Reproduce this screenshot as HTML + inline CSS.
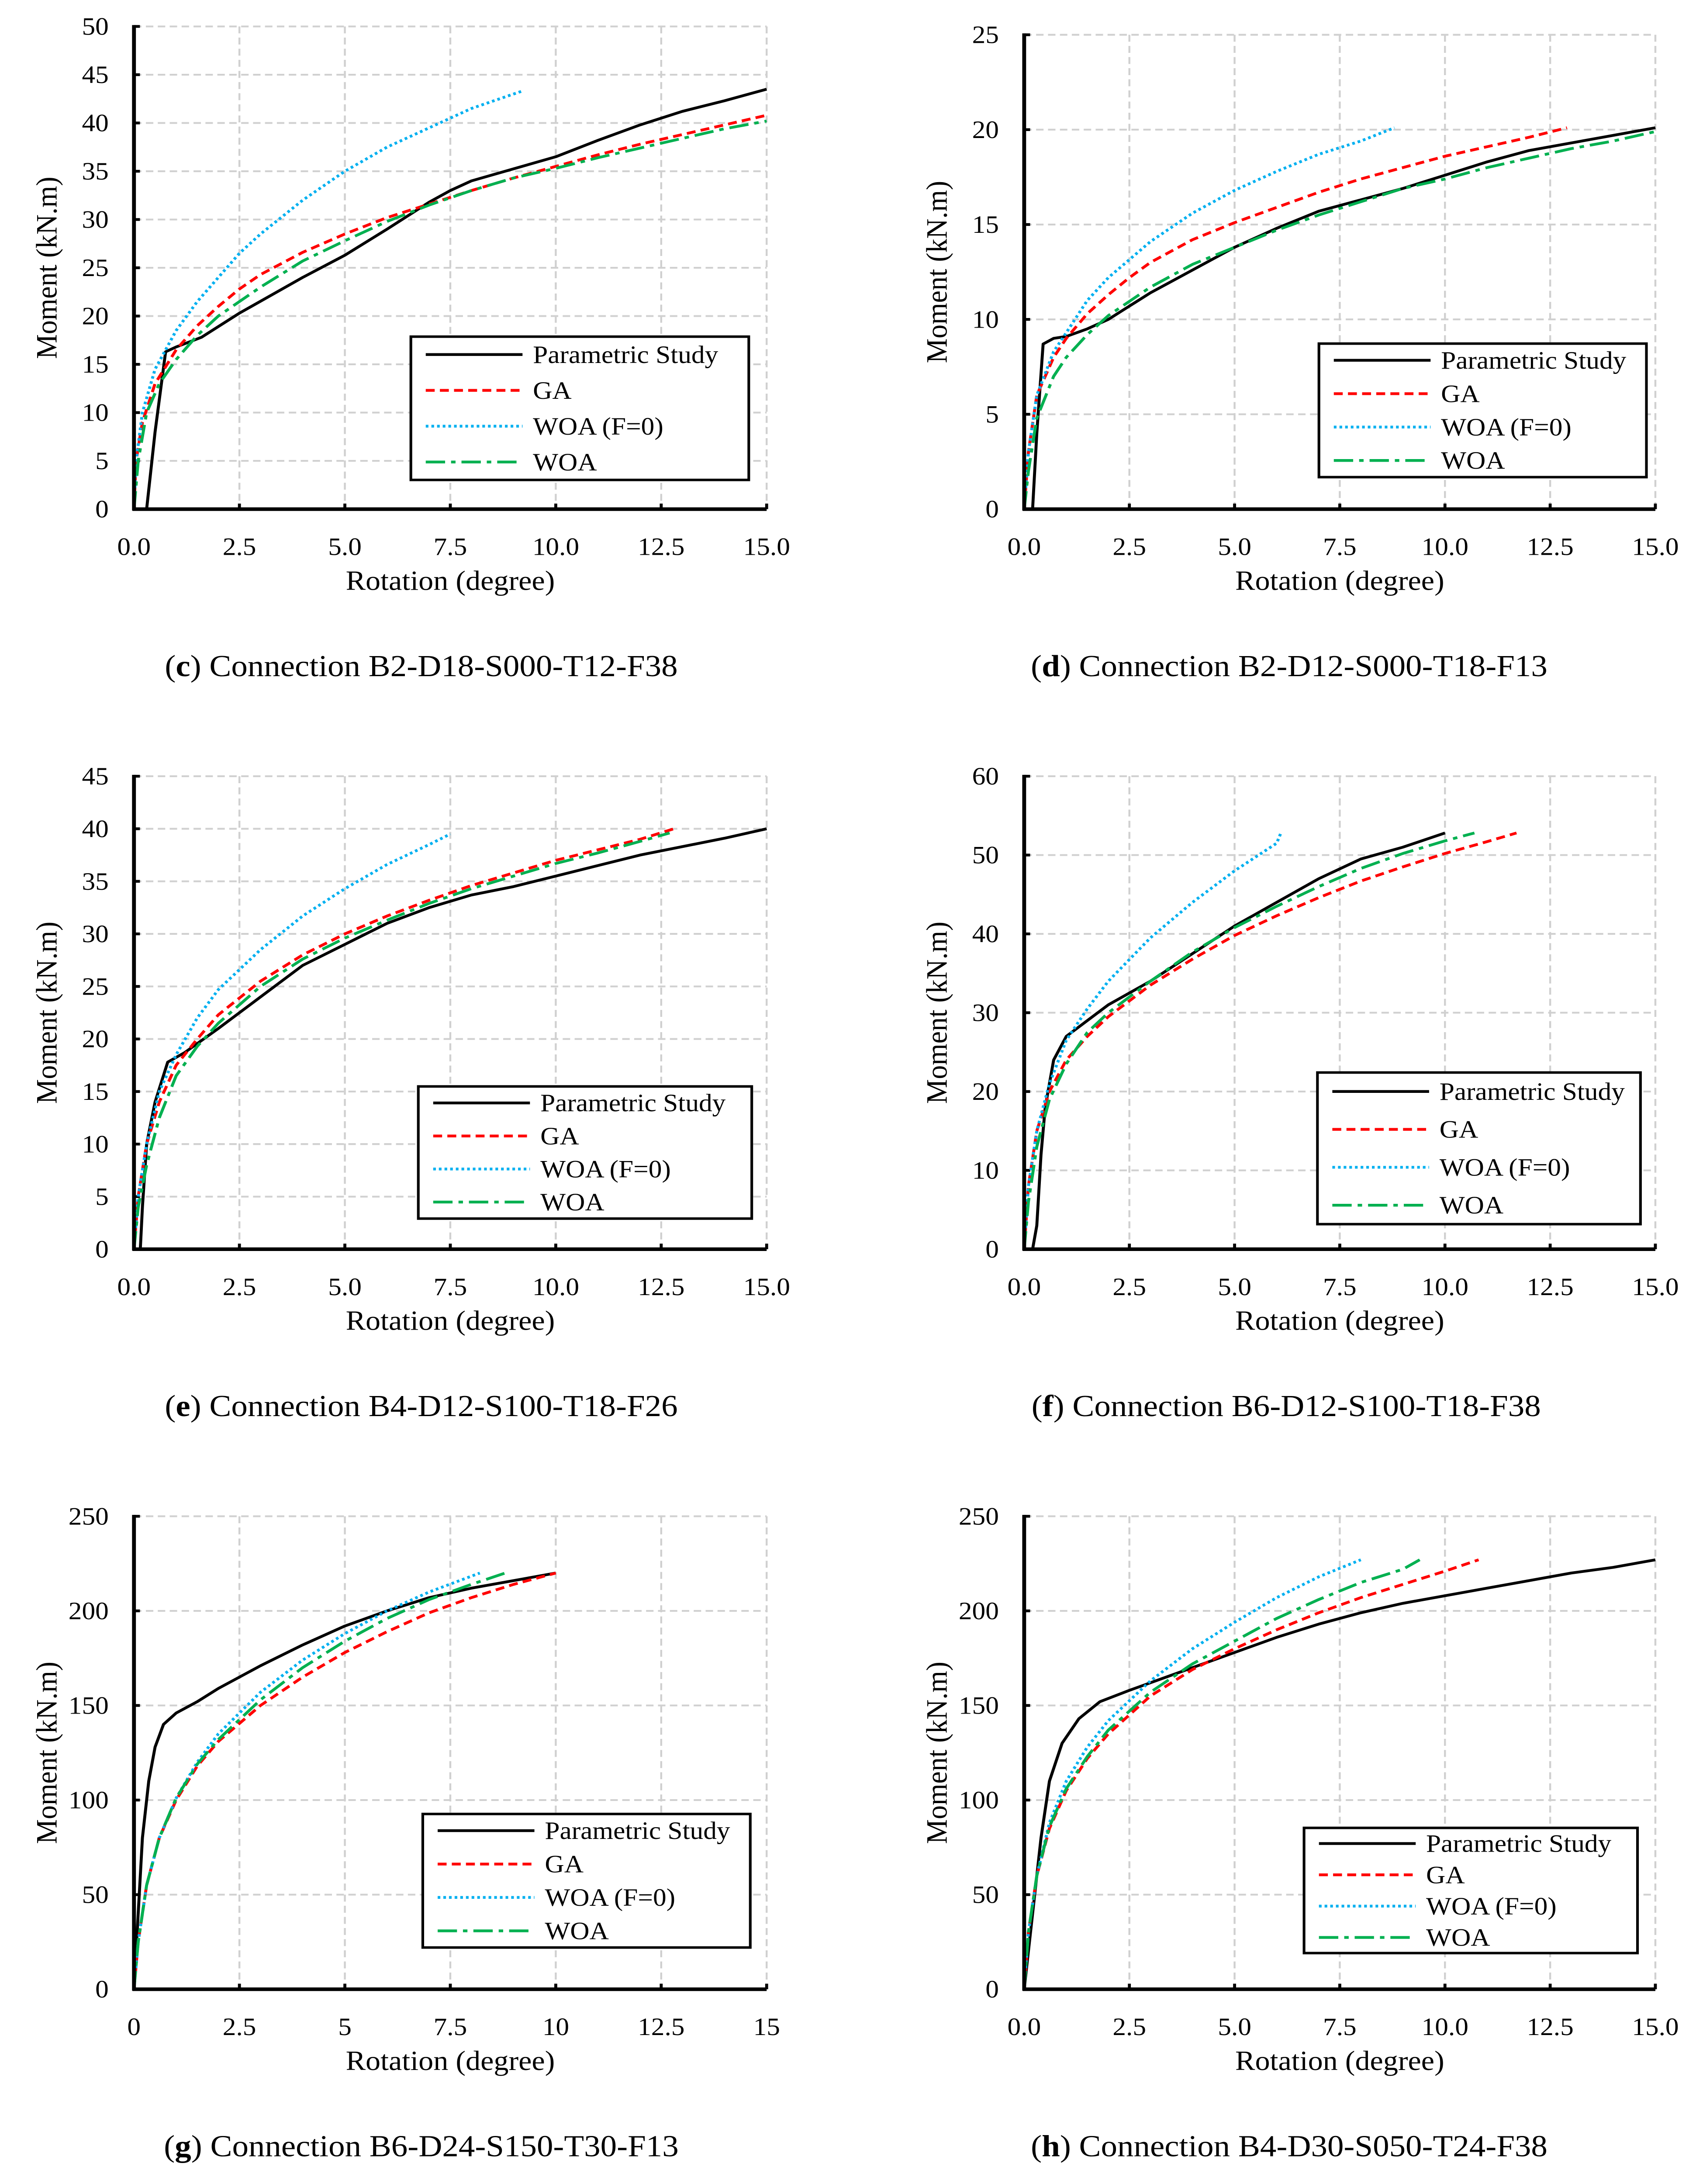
<!DOCTYPE html>
<html><head><meta charset="utf-8">
<style>
html,body{margin:0;padding:0;background:#fff;width:100%;height:100%;overflow:hidden;}
svg{display:block;position:fixed;left:0;top:0;width:100vw;height:100vh;}
text{font-family:"Liberation Serif",serif;fill:#000;}
</style></head>
<body>
<svg id="fig" viewBox="0 0 1144 1570" preserveAspectRatio="none" xmlns="http://www.w3.org/2000/svg"></svg>
<script>
// ---- data: panel c ----
const cParX=[0.3,0.5,0.75,1,1.6,2.5,4,5,6,7,7.5,8,10,11,12,13,14,15];
const cParY=[0,8,16.3,16.8,17.8,20.3,24,26.3,29,31.8,33,34,36.5,38.2,39.8,41.2,42.3,43.5];
const cGaX=[0,0.05,0.2,0.5,1,1.5,2,2.5,3,4,5,6,7,8,9,10,11,12,13,14,15];
const cGaY=[0,5,9,13,16.5,19,21,22.8,24.3,26.6,28.5,30.2,31.6,33,34.3,35.5,36.7,37.8,38.8,39.8,40.8];
const cF0X=[0,0.05,0.2,0.5,1,1.5,2,2.5,3,4,5,6,7,8,9.2];
const cF0Y=[0,5,10,14.5,18.5,21.5,24,26.5,28.5,32,35,37.5,39.5,41.5,43.3];
const cWoX=[0,0.1,0.3,0.6,1,1.5,2,3,4,5,6,7,8,9,10,11,12,13,14,15];
const cWoY=[0,5,10,13,15.5,18,20,23,25.7,27.8,29.8,31.5,33,34.3,35.3,36.4,37.4,38.4,39.4,40.2];
// ---- panel d ----
const dParX=[0.2,0.3,0.45,0.7,1,1.5,2,2.5,3,4,5,6,7,8,9,10,11,12,13,14,15];
const dParY=[0,4,8.7,9,9.1,9.5,10,10.7,11.4,12.6,13.8,14.8,15.7,16.3,16.9,17.6,18.3,18.9,19.3,19.7,20.1];
const dGaX=[0,0.1,0.3,0.7,1,1.5,2,2.5,3,4,5,6,7,8,9,10,11,12,12.9];
const dGaY=[0,3,6,8,9,10.3,11.3,12.2,13,14.2,15.1,15.9,16.7,17.4,18,18.6,19.1,19.6,20.1];
const dF0X=[0,0.1,0.3,0.7,1,1.5,2,3,4,5,6,7,8,8.8];
const dF0Y=[0,3,6,8.3,9.3,11,12.2,14.1,15.6,16.8,17.8,18.7,19.4,20.1];
const dWoX=[0,0.1,0.3,0.7,1,1.5,2,3,4,5,6,7,8,9,10,11,12,13,14,15];
const dWoY=[0,2,4.8,7,8,9.2,10.2,11.7,12.9,13.8,14.7,15.5,16.2,16.9,17.4,18,18.5,19,19.4,19.9];
// ---- panel e ----
const eParX=[0.15,0.2,0.3,0.5,0.8,1.2,2,3,4,5,6,7,8,9,10,11,12,13,14,15];
const eParY=[0,4,10,14,17.8,18.7,21,24,27,29,31,32.5,33.7,34.5,35.5,36.5,37.5,38.3,39.1,40];
const eGaX=[0,0.1,0.3,0.6,1,1.5,2,3,4,5,6,7,8,9,10,11,12,12.8];
const eGaY=[0,5,10,14,17.5,20,22.3,25.5,28,30,31.7,33.2,34.6,35.8,37,38,39,40];
const eF0X=[0,0.1,0.3,0.6,1,1.5,2,3,4,5,6,7,7.5];
const eF0Y=[0,5,10,15,18.5,22,24.7,28.5,31.7,34.3,36.6,38.5,39.5];
const eWoX=[0,0.1,0.3,0.6,1,1.5,2,3,4,5,6,7,8,9,10,11,12,12.7];
const eWoY=[0,4,8,12.5,16.5,19.3,21.5,25,27.6,29.6,31.3,32.9,34.3,35.5,36.7,37.7,38.8,39.6];
// ---- panel f ----
const fParX=[0.2,0.3,0.4,0.5,0.7,1,1.5,2,3,4,5,6,7,8,9,10];
const fParY=[0,3,12,18,24,27,29,31,34,37.5,41,44,47,49.5,51,52.8];
const fGaX=[0,0.1,0.3,0.6,1,1.5,2,3,4,5,6,7,8,9,10,11,11.7];
const fGaY=[0,8,15,20,24,27,29.5,33.5,36.8,39.8,42.3,44.6,46.7,48.5,50.2,51.7,52.8];
const fF0X=[0,0.1,0.3,0.6,1,1.5,2,3,4,5,6,6.1];
const fF0Y=[0,8,15,21,26.5,30.5,34,39.5,44,48,51.5,52.8];
const fWoX=[0,0.1,0.3,0.6,1,1.5,2,3,4,5,6,7,8,9,10,10.7];
const fWoY=[0,6,13,19,23.5,27.5,30,34,37.7,40.8,43.5,46,48.3,50.2,51.8,52.8];
// ---- panel g ----
const gParX=[0,0.1,0.2,0.35,0.5,0.7,1,1.5,2,3,4,5,6,7,8,9,10];
const gParY=[0,40,80,110,128,140,146,152,159,171,182,192,200,207,212,216,220];
const gGaX=[0,0.1,0.3,0.6,1,1.5,2,3,4,5,6,7,8,9,10];
const gGaY=[0,25,55,80,100,118,131,150,165,178,189,199,207,214,220];
const gF0X=[0,0.1,0.3,0.6,1,1.5,2,3,4,5,6,7,8.2];
const gF0Y=[0,25,55,80,101,120,135,157,174,188,200,210,220];
const gWoX=[0,0.1,0.3,0.6,1,1.5,2,3,4,5,6,7,8,8.8];
const gWoY=[0,25,55,80,101,119,132,153,170,184,196,206,214,220];
// ---- panel h ----
const hParX=[0,0.2,0.4,0.6,0.9,1.3,1.8,2.5,3.5,5,6,7,8,9,10,11,12,13,14,15];
const hParY=[0,40,80,110,130,143,152,158,166,178,186,193,199,204,208,212,216,220,223,227];
const hGaX=[0,0.1,0.3,0.6,1,1.5,2,3,4,5,6,7,8,9,10,10.8];
const hGaY=[0,30,60,85,105,122,135,155,169,180,190,199,207,214,221,227];
const hF0X=[0,0.1,0.3,0.6,1,1.5,2,3,4,5,6,7,8];
const hF0Y=[0,30,60,88,110,128,142,163,180,194,207,218,227];
const hWoX=[0,0.1,0.3,0.6,1,1.5,2,3,4,5,6,7,8,9,9.4];
const hWoY=[0,30,60,86,106,123,137,157,172,184,196,206,215,222,227];
// ---- ticks ----
const xTicksDec=["0.0","2.5","5.0","7.5","10.0","12.5","15.0"];
const xTicksG=["0","2.5","5","7.5","10","12.5","15"];
const yTicks50=["0","5","10","15","20","25","30","35","40","45","50"];
const yTicks25=["0","5","10","15","20","25"];
const yTicks45=["0","5","10","15","20","25","30","35","40","45"];
const yTicks60=["0","10","20","30","40","50","60"];
const yTicks250=["0","50","100","150","200","250"];
const seriesNames=["Parametric Study","GA","WOA (F=0)","WOA"];

const NS="http://www.w3.org/2000/svg";
const svg=document.getElementById('fig');
function mk(tag,attrs,parent,name){
  const e=document.createElementNS(NS,tag);
  for(const k in attrs)e.setAttribute(k,attrs[k]);
  
  
  parent.appendChild(e);return e;
}
const styles=[
  {stroke:"#000",dash:"",w:2},
  {stroke:"#ff0000",dash:"6,3.5",w:2},
  {stroke:"#00b0f0",dash:"1.8,2",w:2},
  {stroke:"#00b050",dash:"13,4,3,4",w:2}
];
function chart(p){
  const g=mk('g',{},svg,'chart-'+p.id);
  const ymaxV=p.ymax;
  const sx=v=>p.x0+(v/15)*(p.x1-p.x0);
  const sy=v=>p.y0-(v/ymaxV)*(p.y0-p.yt);
  const grid=mk('g',{},g,'gridlines');
  for(let i=0;i<p.yt_l.length;i++){
    const v=ymaxV*i/(p.yt_l.length-1);
    if(i>0) mk('line',{x1:p.x0,x2:p.x1,y1:sy(v),y2:sy(v),stroke:"#d0d0d0","stroke-width":1.3,"stroke-dasharray":"5,3"},grid,'h-gridline');
    const t=mk('text',{x:p.x0-17,y:sy(v)+6,"text-anchor":"end","font-size":18},g,'y-tick-label');
    t.textContent=p.yt_l[i];
  }
  for(let i=0;i<p.xt_l.length;i++){
    const v=15*i/(p.xt_l.length-1);
    if(i>0) mk('line',{x1:sx(v),x2:sx(v),y1:p.yt,y2:p.y0,stroke:"#d0d0d0","stroke-width":1.3,"stroke-dasharray":"5,3"},grid,'v-gridline');
    mk('line',{x1:sx(v),x2:sx(v),y1:p.y0,y2:p.y0-4,stroke:"#000","stroke-width":2},g,'x-tick');
    const t=mk('text',{x:sx(v),y:p.y0+33,"text-anchor":"middle","font-size":18},g,'x-tick-label');
    t.textContent=p.xt_l[i];
  }
  for(let i=0;i<p.yt_l.length;i++){
    const v=ymaxV*i/(p.yt_l.length-1);
    mk('line',{x1:p.x0,x2:p.x0+4,y1:sy(v),y2:sy(v),stroke:"#000","stroke-width":2},g,'y-tick');
  }
  p.series.forEach((s,k)=>{
    const st=styles[k];
    const d=s[0].map((x,i)=>(i?'L':'M')+sx(x).toFixed(2)+','+sy(s[1][i]).toFixed(2)).join(' ');
    mk('path',{d:d,fill:"none",stroke:st.stroke,"stroke-width":st.w,"stroke-dasharray":st.dash,"stroke-linejoin":"round"},g,'series-'+['parametric','ga','woa-f0','woa'][k]);
  });
  mk('line',{x1:p.x0,x2:p.x0,y1:p.yt-1,y2:p.y0+1,stroke:"#000","stroke-width":2.6},g,'y-axis');
  mk('line',{x1:p.x0-1,x2:p.x1,y1:p.y0,y2:p.y0,stroke:"#000","stroke-width":2.6},g,'x-axis');
  const yl=mk('text',{x:0,y:0,"text-anchor":"middle","font-size":20,transform:`translate(${p.x0-52},${(p.y0+p.yt)/2}) rotate(-90)`},g,'y-axis-title');
  yl.textContent="Moment (kN.m)";
  const xl=mk('text',{x:(p.x0+p.x1)/2,y:p.y0+58,"text-anchor":"middle","font-size":20},g,'x-axis-title');
  xl.textContent="Rotation (degree)";
  const L=p.leg;
  const lg=mk('g',{},g,'legend');
  mk('rect',{x:L[0],y:L[1],width:L[2]-L[0],height:L[3]-L[1],fill:"#fff",stroke:"#000","stroke-width":1.8},lg,'legend-box');
  const rh=(L[3]-L[1])/4;
  seriesNames.forEach((n,k)=>{
    const cy=L[1]+rh*(k+0.5);
    const st=styles[k];
    mk('line',{x1:L[0]+10,x2:L[0]+75,y1:cy,y2:cy,stroke:st.stroke,"stroke-width":2,"stroke-dasharray":st.dash},lg,'legend-swatch');
    const t=mk('text',{x:L[0]+82,y:cy+6,"font-size":18},lg,'legend-entry');
    t.textContent=n;
  });
  const cap=mk('text',{x:p.capX,y:p.capY,"text-anchor":"middle","font-size":22},g,'caption');
  cap.innerHTML=`(<tspan font-weight="bold">${p.id}</tspan>) ${p.cap}`;
}
chart({id:'c',x0:90,x1:515,y0:366,yt:19,ymax:50,yt_l:yTicks50,xt_l:xTicksDec,leg:[276,242,503,345],capX:283,capY:486,cap:"Connection B2-D18-S000-T12-F38",
  series:[[cParX,cParY],[cGaX,cGaY],[cF0X,cF0Y],[cWoX,cWoY]]});
chart({id:'d',x0:688,x1:1112,y0:366,yt:25,ymax:25,yt_l:yTicks25,xt_l:xTicksDec,leg:[886,247,1106,343],capX:866,capY:486,cap:"Connection B2-D12-S000-T18-F13",
  series:[[dParX,dParY],[dGaX,dGaY],[dF0X,dF0Y],[dWoX,dWoY]]});
chart({id:'e',x0:90,x1:515,y0:898,yt:558,ymax:45,yt_l:yTicks45,xt_l:xTicksDec,leg:[281,781,505,876],capX:283,capY:1018,cap:"Connection B4-D12-S100-T18-F26",
  series:[[eParX,eParY],[eGaX,eGaY],[eF0X,eF0Y],[eWoX,eWoY]]});
chart({id:'f',x0:688,x1:1112,y0:898,yt:558,ymax:60,yt_l:yTicks60,xt_l:xTicksDec,leg:[885,771,1102,880],capX:864,capY:1018,cap:"Connection B6-D12-S100-T18-F38",
  series:[[fParX,fParY],[fGaX,fGaY],[fF0X,fF0Y],[fWoX,fWoY]]});
chart({id:'g',x0:90,x1:515,y0:1430,yt:1090,ymax:250,yt_l:yTicks250,xt_l:xTicksG,leg:[284,1304,504,1400],capX:283,capY:1550,cap:"Connection B6-D24-S150-T30-F13",
  series:[[gParX,gParY],[gGaX,gGaY],[gF0X,gF0Y],[gWoX,gWoY]]});
chart({id:'h',x0:688,x1:1112,y0:1430,yt:1090,ymax:250,yt_l:yTicks250,xt_l:xTicksDec,leg:[876,1314,1100,1404],capX:866,capY:1550,cap:"Connection B4-D30-S050-T24-F38",
  series:[[hParX,hParY],[hGaX,hGaY],[hF0X,hF0Y],[hWoX,hWoY]]});
</script>
</body></html>
